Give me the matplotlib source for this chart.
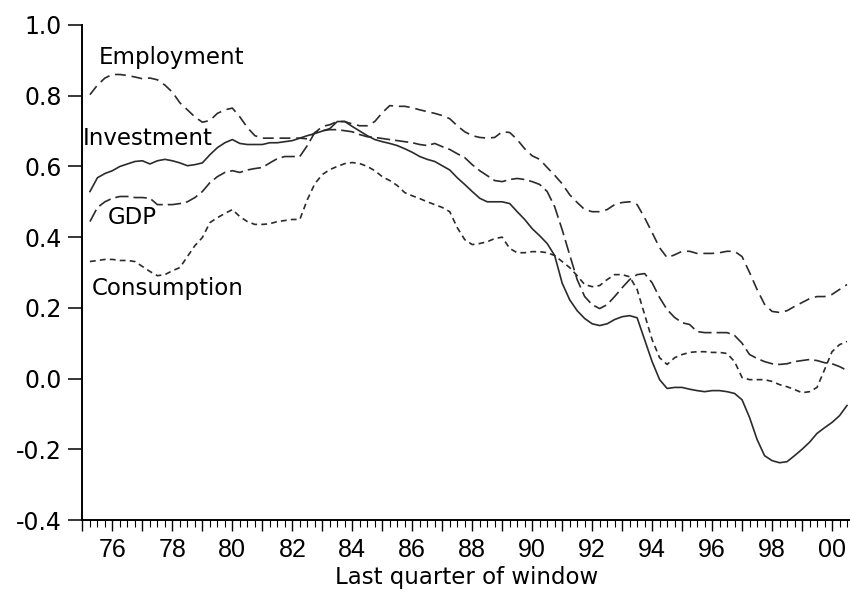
import numpy as np
import matplotlib
matplotlib.use('Agg')
import matplotlib.pyplot as plt
from matplotlib.ticker import MultipleLocator, FuncFormatter

# quarterly window end dates, 1975Q2 .. 2000Q3
quarters = np.arange(1975.25, 2000.51, 0.25)

employment = [
    0.803, 0.83, 0.85, 0.86, 0.86, 0.857, 0.853, 0.848, 0.85, 0.845,
    0.83, 0.81, 0.78, 0.76, 0.74, 0.725, 0.73, 0.75, 0.76, 0.765,
    0.74, 0.71, 0.687, 0.68, 0.68, 0.68, 0.68, 0.68, 0.68, 0.678,
    0.695, 0.713, 0.718, 0.727, 0.727, 0.72, 0.715, 0.715, 0.727, 0.752,
    0.772, 0.77, 0.77, 0.766, 0.76, 0.755, 0.75, 0.744, 0.735, 0.715,
    0.698, 0.687, 0.682, 0.68, 0.682, 0.698, 0.696, 0.676, 0.65, 0.63,
    0.62, 0.597, 0.575, 0.551, 0.52, 0.498, 0.478, 0.472, 0.472, 0.478,
    0.492, 0.498, 0.50, 0.492, 0.455, 0.413, 0.37, 0.342, 0.35, 0.36,
    0.36, 0.354, 0.354, 0.354, 0.356, 0.36, 0.36, 0.345, 0.30, 0.252,
    0.21, 0.19, 0.187, 0.192, 0.204, 0.215, 0.226, 0.232, 0.232, 0.238,
    0.252, 0.266,
]

investment = [
    0.529, 0.568, 0.58, 0.588, 0.60, 0.607, 0.614, 0.616, 0.607, 0.616,
    0.62, 0.616, 0.61, 0.602, 0.605, 0.61, 0.633, 0.653, 0.667, 0.676,
    0.665, 0.662, 0.662, 0.662, 0.667, 0.667, 0.67, 0.673, 0.68, 0.687,
    0.693, 0.70, 0.707, 0.727, 0.727, 0.713, 0.70, 0.687, 0.676, 0.67,
    0.665, 0.659, 0.65, 0.64, 0.628, 0.62, 0.614, 0.602, 0.59, 0.568,
    0.549, 0.529, 0.51, 0.50, 0.50, 0.50, 0.495, 0.472, 0.45, 0.424,
    0.404, 0.382, 0.348, 0.27, 0.223, 0.192, 0.17, 0.155, 0.15, 0.155,
    0.167, 0.175, 0.178, 0.172, 0.11, 0.048, -0.003, -0.028, -0.025, -0.025,
    -0.03, -0.034, -0.037, -0.034, -0.034, -0.037, -0.042, -0.06, -0.11, -0.172,
    -0.218, -0.232, -0.238, -0.235, -0.218, -0.20, -0.18, -0.155, -0.139, -0.124,
    -0.105, -0.076,
]

gdp = [
    0.444, 0.484, 0.50, 0.51, 0.515, 0.515, 0.512, 0.512, 0.51, 0.492,
    0.492, 0.492, 0.495, 0.50, 0.512, 0.529, 0.554, 0.571, 0.583, 0.588,
    0.583, 0.59, 0.594, 0.597, 0.61, 0.622, 0.628, 0.628, 0.628, 0.659,
    0.696, 0.701, 0.704, 0.704, 0.701, 0.698, 0.69, 0.684, 0.682, 0.679,
    0.676, 0.673, 0.67, 0.667, 0.662, 0.659, 0.665, 0.656, 0.648, 0.636,
    0.625, 0.605, 0.588, 0.574, 0.56, 0.557, 0.563, 0.566, 0.563, 0.557,
    0.549, 0.529, 0.486, 0.421, 0.35, 0.28, 0.232, 0.209, 0.198, 0.209,
    0.232, 0.257, 0.28, 0.294, 0.297, 0.271, 0.229, 0.195, 0.173, 0.158,
    0.153, 0.133, 0.13, 0.13, 0.13, 0.13, 0.122, 0.10, 0.068, 0.057,
    0.048, 0.042, 0.04, 0.042, 0.048, 0.051, 0.054, 0.051, 0.045, 0.042,
    0.034, 0.023,
]

consumption = [
    0.331, 0.334, 0.337, 0.337, 0.334, 0.334, 0.331, 0.317, 0.303, 0.291,
    0.294, 0.305, 0.314, 0.345, 0.376, 0.399, 0.441, 0.455, 0.467, 0.478,
    0.458, 0.444, 0.436, 0.436, 0.438, 0.444, 0.447, 0.45, 0.45, 0.506,
    0.551, 0.577, 0.591, 0.60, 0.608, 0.611, 0.608, 0.60, 0.588, 0.571,
    0.56, 0.546, 0.526, 0.517, 0.509, 0.50, 0.492, 0.484, 0.472, 0.427,
    0.393, 0.379, 0.382, 0.387, 0.396, 0.40, 0.368, 0.356, 0.356, 0.359,
    0.359, 0.356, 0.348, 0.331, 0.314, 0.291, 0.266, 0.26, 0.263, 0.28,
    0.294, 0.294, 0.288, 0.252, 0.181, 0.11, 0.059, 0.04, 0.059, 0.068,
    0.074, 0.076, 0.076, 0.074, 0.074, 0.071, 0.048, 0.003, -0.003, -0.003,
    -0.003, -0.008, -0.017, -0.023, -0.031, -0.04, -0.037, -0.025, 0.025, 0.076,
    0.096, 0.105,
]

line_color = '#2b2b2b'

fig = plt.figure(figsize=(8.5, 5.95), dpi=100)
ax = fig.add_axes([0.097, 0.126, 0.903, 0.832])

ax.plot(quarters, employment, color=line_color, lw=1.2, dashes=(6.5, 3.5))
ax.plot(quarters, investment, color=line_color, lw=1.2)
ax.plot(quarters, gdp, color=line_color, lw=1.2, dashes=(8, 3))
ax.plot(quarters, consumption, color=line_color, lw=1.2, dashes=(3.5, 2.5))

# series names written on the chart
ax.text(1975.55, 0.907, 'Employment', fontsize=16.5, va='center')
ax.text(1975.0, 0.68, 'Investment', fontsize=16.5, va='center')
ax.text(1975.85, 0.455, 'GDP', fontsize=16.5, va='center')
ax.text(1975.3, 0.255, 'Consumption', fontsize=16.5, va='center')

ax.set_xlim(1975.0, 2000.6)
ax.set_ylim(-0.4, 1.0)

ax.spines['top'].set_visible(False)
ax.spines['right'].set_visible(False)
ax.spines['left'].set_linewidth(1.4)
ax.spines['bottom'].set_linewidth(1.4)

ax.yaxis.set_major_locator(MultipleLocator(0.2))
ax.yaxis.set_major_formatter(FuncFormatter(lambda v, p: f'{v:.1f}'))
ax.tick_params(axis='y', length=10, width=1.1, labelsize=17, pad=5)

ax.xaxis.set_major_locator(MultipleLocator(1))
ax.xaxis.set_minor_locator(MultipleLocator(0.25))
ax.xaxis.set_major_formatter(
    FuncFormatter(lambda v, p: f'{int(round(v)) % 100:02d}' if int(round(v)) % 2 == 0 else ''))
ax.tick_params(axis='x', which='major', length=8, width=1.0, pad=5)
ax.tick_params(axis='x', which='minor', length=5, width=0.8)
for lab in ax.get_xticklabels():
    lab.set_fontfamily('Liberation Sans')
    lab.set_fontsize(18)

ax.set_xlabel('Last quarter of window', fontsize=16.5, labelpad=3)

plt.savefig('out.png', dpi=100)
